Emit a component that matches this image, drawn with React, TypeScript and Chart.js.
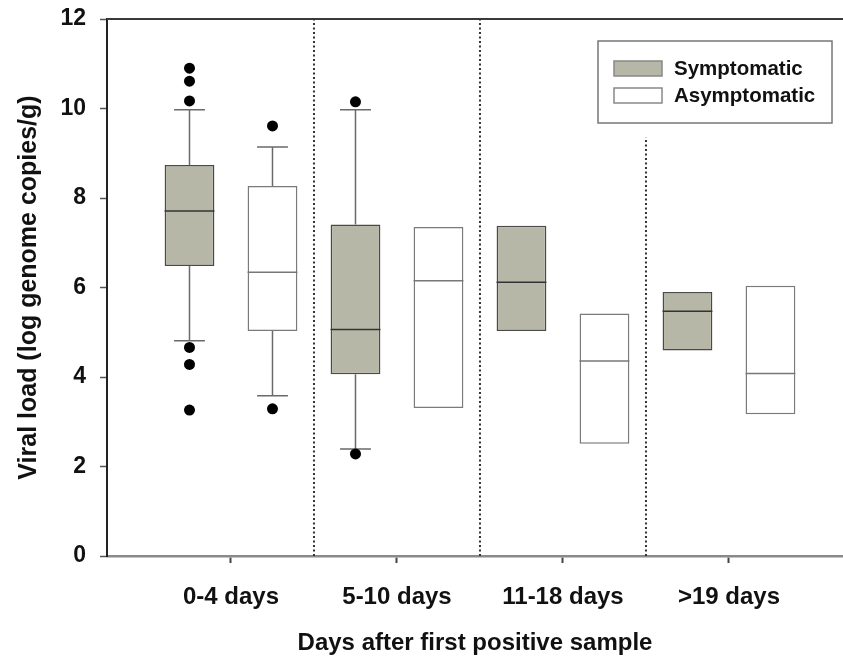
import { useEffect, useRef } from 'react';
import { Chart, registerables } from 'chart.js';

Chart.register(...registerables);

// ---- data ----
const categories = ['0-4 days', '5-10 days', '11-18 days', '>19 days'];
const seriesNames = ['Symptomatic', 'Asymptomatic'];

const symQ1 = [6.48, 4.06, 5.03, 4.59];
const symMedian = [7.71, 5.06, 6.12, 5.47];
const symQ3 = [8.74, 7.41, 7.38, 5.9];
const symWhiskerLow = [4.81, 2.39, null, null];
const symWhiskerHigh = [9.97, 9.97, null, null];
const symOutliers = [[10.9, 10.61, 10.17, 4.66, 4.28, 3.26], [10.15, 2.28], [], []];

const asymQ1 = [5.03, 3.31, 2.51, 3.17];
const asymMedian = [6.34, 6.15, 4.36, 4.08];
const asymQ3 = [8.27, 7.35, 5.42, 6.04];
const asymWhiskerLow = [3.58, null, null, null];
const asymWhiskerHigh = [9.14, null, null, null];
const asymOutliers = [[9.61, 3.29], [], [], []];

const yTicks = [0, 2, 4, 6, 8, 10, 12];
const dividerAt = [0.5, 1.5, 2.5];
const dividerTop = [12, 12, 9.36];

// ---- styling / layout constants ----
const GROUP_OFFSET = 0.25;
const SYM_FILL = '#b7b7a7';
const FONT = '"Liberation Sans", Arial, Helvetica, sans-serif';

const series = [
  { name: seriesNames[0], q1: symQ1, med: symMedian, q3: symQ3, lo: symWhiskerLow, hi: symWhiskerHigh, out: symOutliers, sign: -1, fill: SYM_FILL, border: '#4a4a4a', medColor: '#333' },
  { name: seriesNames[1], q1: asymQ1, med: asymMedian, q3: asymQ3, lo: asymWhiskerLow, hi: asymWhiskerHigh, out: asymOutliers, sign: 1, fill: '#ffffff', border: '#7a7a7a', medColor: '#777' },
];

const boxPlugin = {
  id: 'boxDetails',
  beforeDatasetsDraw(chart: any) {
    const { ctx } = chart;
    const y = chart.scales.y;
    ctx.save();
    ctx.strokeStyle = '#3a3a3a';
    ctx.lineWidth = 2;
    ctx.beginPath();
    ctx.moveTo(chart.chartArea.left, chart.chartArea.top);
    ctx.lineTo(chart.chartArea.right, chart.chartArea.top);
    ctx.stroke();
    series.forEach((s, d) => {
      const meta = chart.getDatasetMeta(d);
      meta.data.forEach((el: any, i: number) => {
        const cap = el.width * 0.62;
        ctx.strokeStyle = '#6a6a6a';
        ctx.lineWidth = 1.5;
        const pairs: [number | null, number][] = [[s.hi[i], s.q3[i]], [s.lo[i], s.q1[i]]];
        pairs.forEach(([w, edge]) => {
          if (w === null || w === undefined) return;
          const yw = y.getPixelForValue(w);
          const ye = y.getPixelForValue(edge);
          ctx.beginPath();
          ctx.moveTo(el.x, ye);
          ctx.lineTo(el.x, yw);
          ctx.moveTo(el.x - cap / 2, yw);
          ctx.lineTo(el.x + cap / 2, yw);
          ctx.stroke();
        });
      });
    });
    ctx.restore();
  },
  afterDatasetDraw(chart: any, args: any) {
    const d = args.index;
    if (d > 1) return;
    const s = series[d];
    const { ctx } = chart;
    const y = chart.scales.y;
    ctx.save();
    ctx.strokeStyle = s.medColor;
    ctx.lineWidth = 1.5;
    args.meta.data.forEach((el: any, i: number) => {
      const ym = y.getPixelForValue(s.med[i]);
      ctx.beginPath();
      ctx.moveTo(el.x - el.width / 2, ym);
      ctx.lineTo(el.x + el.width / 2, ym);
      ctx.stroke();
    });
    ctx.restore();
  },
  afterDraw(chart: any) {
    const { ctx, chartArea } = chart;
    const bx = chartArea.right - 245;
    const by = chartArea.top + 22;
    const bw = 234;
    const bh = 82;
    ctx.save();
    ctx.fillStyle = '#fff';
    ctx.fillRect(bx, by, bw, bh);
    ctx.strokeStyle = '#777';
    ctx.lineWidth = 1.5;
    ctx.strokeRect(bx, by, bw, bh);
    series.forEach((s, k) => {
      const sy = by + 20 + k * 27;
      ctx.fillStyle = s.fill;
      ctx.fillRect(bx + 16, sy, 48, 15);
      ctx.strokeStyle = '#888';
      ctx.lineWidth = 1.5;
      ctx.strokeRect(bx + 16, sy, 48, 15);
      ctx.fillStyle = '#111';
      ctx.font = `bold 20.5px ${FONT}`;
      ctx.textBaseline = 'middle';
      ctx.textAlign = 'left';
      ctx.fillText(s.name, bx + 76, sy + 8);
    });
    ctx.restore();
  },
};

export default function App() {
  const ref = useRef<HTMLCanvasElement | null>(null);

  useEffect(() => {
    if (!ref.current) return;

    const barSets = series.map((s) => ({
      type: 'bar' as const,
      label: s.name,
      data: categories.map((_, i) => ({ x: i + s.sign * GROUP_OFFSET, y: [s.q1[i], s.q3[i]] })),
      backgroundColor: s.fill,
      borderColor: s.border,
      borderWidth: 1.5,
      borderSkipped: false,
      grouped: false,
      categoryPercentage: 1,
      barPercentage: 0.6,
      order: 1,
    }));

    const outlierSets = series.map((s) => ({
      type: 'scatter' as const,
      label: s.name + ' outliers',
      data: s.out.flatMap((vals, i) => vals.map((v) => ({ x: i + s.sign * GROUP_OFFSET, y: v }))),
      backgroundColor: '#000',
      borderWidth: 0,
      pointRadius: 5.5,
      order: 0,
    }));

    const dividerSets = dividerAt.map((xv, k) => ({
      type: 'line' as const,
      label: 'divider' + k,
      data: [{ x: xv, y: 0 }, { x: xv, y: dividerTop[k] }],
      borderColor: '#333',
      borderWidth: 2,
      borderDash: [2, 2.5],
      pointRadius: 0,
      fill: false,
      order: 2,
    }));

    const chart = new Chart(ref.current, {
      type: 'bar',
      data: { datasets: [...barSets, ...outlierSets, ...dividerSets] as any },
      options: {
        animation: false,
        responsive: false,
        layout: { autoPadding: false, padding: { left: 0, right: 0, top: 19, bottom: 0 } },
        plugins: {
          legend: { display: false },
          tooltip: { enabled: false },
        },
        scales: {
          x: {
            type: 'linear',
            offset: false,
            min: -0.747,
            max: 3.687,
            afterBuildTicks: (scale: any) => {
              scale.ticks = categories.map((_, i) => ({ value: i }));
            },
            afterFit: (scale: any) => {
              scale.height = 105;
              scale.paddingLeft = 0;
              scale.paddingRight = 0;
            },
            grid: {
              display: true,
              offset: false,
              drawOnChartArea: false,
              drawTicks: true,
              tickLength: 7,
              tickColor: '#444',
              tickWidth: 2,
            },
            border: { display: true, color: '#8a8a8a', width: 2.5 },
            ticks: {
              padding: 19.5,
              color: '#111',
              font: { family: FONT, size: 24, weight: 'bold' },
              callback: (v: any) => categories[v as number] ?? '',
              maxRotation: 0,
              autoSkip: false,
            },
            title: {
              display: true,
              text: 'Days after first positive sample',
              color: '#111',
              font: { family: FONT, size: 24, weight: 'bold' },
              padding: { top: 0, bottom: 3.5 },
            },
          },
          y: {
            type: 'linear',
            min: 0,
            max: 12,
            afterBuildTicks: (scale: any) => {
              scale.ticks = yTicks.map((v) => ({ value: v }));
            },
            afterFit: (scale: any) => {
              scale.width = 107;
              scale.paddingTop = 0;
              scale.paddingBottom = 0;
            },
            grid: {
              display: true,
              drawOnChartArea: false,
              drawTicks: true,
              tickLength: 7,
              tickColor: '#555',
              tickWidth: 1.5,
            },
            border: { display: true, color: '#222', width: 2 },
            ticks: {
              padding: 14,
              color: '#111',
              font: { family: FONT, size: 23, weight: 'bold' },
            },
            title: {
              display: true,
              text: 'Viral load (log genome copies/g)',
              color: '#111',
              font: { family: FONT, size: 25, weight: 'bold' },
              padding: { top: 14, bottom: 0 },
            },
          },
        },
      } as any,
      plugins: [boxPlugin],
    });

    return () => chart.destroy();
  }, []);

  return (
    <div style={{ position: 'absolute', left: 0, top: 0, width: 843, height: 661, background: '#fff' }}>
      <canvas ref={ref} width={843} height={661} style={{ display: 'block' }} />
    </div>
  );
}
